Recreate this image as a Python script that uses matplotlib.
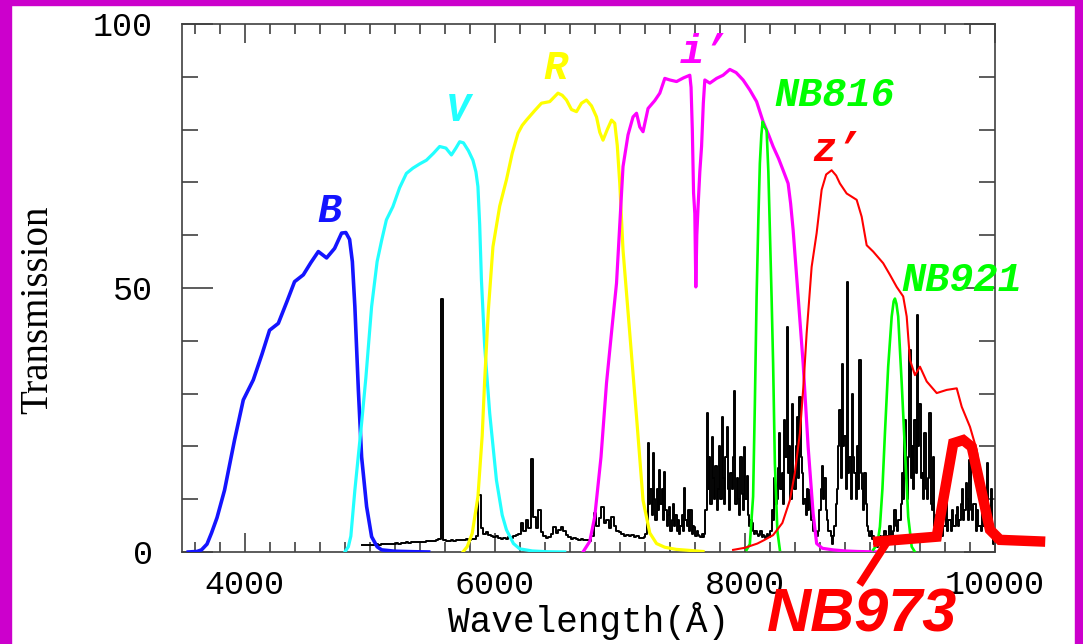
import matplotlib
matplotlib.use("Agg")
import matplotlib.pyplot as plt
from matplotlib.patches import Rectangle
import numpy as np

# filter transmission curves (wavelength in A, transmission in %)
b_wave = [3550, 3620, 3656, 3700, 3736, 3780, 3840, 3920, 3990, 4070, 4140, 4200, 4270,
          4340, 4400, 4470, 4530, 4590, 4656, 4720, 4776, 4810, 4840, 4862, 4882,
          4910, 4936, 4976, 5016, 5060, 5096, 5200, 5350, 5472]
b_trans = [0, 0.1, 0.4, 1.5, 3.6, 6.5, 11.7, 21.2, 28.8, 32.6, 37.5, 42, 43.3,
           47.5, 51.2, 52.5, 54.8, 56.9, 55.7, 57.5, 60.4, 60.5, 59.2, 55, 46.5,
           30.7, 18, 8.6, 2.9, 1.0, 0.4, 0.15, 0.05, 0]

v_wave = [4802, 4830, 4850, 4882, 4936, 4970, 5016, 5060, 5096, 5134, 5186, 5240,
          5294, 5346, 5400, 5454, 5510, 5560, 5610, 5654, 5690, 5720, 5750, 5790,
          5826, 5850, 5866, 5880, 5894, 5920, 5960, 6014, 6060, 6094, 6150, 6200,
          6300, 6420, 6560]
v_trans = [0, 1, 3, 11.7, 24.4, 33, 46.5, 55, 59, 62.9, 65.4, 69,
           71.7, 72.7, 73.5, 74.2, 75.5, 76.8, 76.5, 75.2, 76.5, 77.7, 77.5, 76,
           74.2, 72, 69.2, 62, 51.5, 38.9, 26.3, 13.6, 7, 4.2, 1.6, 0.6,
           0.2, 0.05, 0]

r_wave = [5746, 5780, 5820, 5866, 5900, 5920, 5950, 5986, 6040, 6094, 6140, 6186,
          6220, 6254, 6320, 6374, 6440, 6506, 6540, 6574, 6614, 6654, 6694, 6734,
          6774, 6814, 6840, 6866, 6900, 6934, 6960, 6980, 7000, 7026, 7080, 7134,
          7186, 7240, 7294, 7360, 7450, 7560, 7666]
r_trans = [0, 1, 3.5, 10.5, 22, 32.6, 46, 57.8, 65.5, 70.5, 75.5, 79.3,
           80.8, 81.8, 83.6, 85, 85.3, 86.9, 86.5, 85.6, 83.8, 83.4, 85, 85.6,
           84.5, 82.4, 79.5, 78, 80, 81.8, 81.2, 77, 69.8, 57.2, 41.4, 25.6,
           9.8, 3.6, 1.6, 0.9, 0.5, 0.3, 0.1]

i_wave = [6706, 6760, 6800, 6850, 6894, 6940, 6974, 7000, 7026, 7066, 7106, 7134,
          7160, 7186, 7226, 7280, 7320, 7360, 7400, 7454, 7510, 7560, 7570, 7580,
          7590, 7600, 7608, 7616, 7626, 7640, 7654, 7668, 7680, 7720, 7774, 7826,
          7880, 7930, 7986, 8040, 8094, 8146, 8190, 8226, 8270, 8306, 8346, 8366,
          8386, 8426, 8466, 8506, 8546, 8574, 8620, 8706, 8800, 8900, 9080]
i_trans = [0, 2, 6.7, 18, 32, 43, 50.9, 62, 73, 79, 82.4, 83.1,
           80.5, 79.6, 84, 85.5, 86.9, 89.7, 89.4, 89.1, 89.8, 90.3, 88, 80,
           68, 64.1, 50.2, 60, 65.4, 72, 76.8, 85, 89.4, 88.8, 89.7, 90.3,
           91.4, 90.8, 89.4, 87.5, 85.3, 81.5, 79, 76.8, 74.5, 72.3, 69.8, 66,
           61, 48.4, 35.7, 19.9, 7.3, 1.6, 0.7, 0.4, 0.2, 0.1, 0]

nb816_wave = [8014, 8040, 8066, 8080, 8094, 8108, 8120, 8132, 8142, 8158, 8174, 8188,
              8200, 8214, 8226, 8240, 8260, 8280]
nb816_trans = [0.4, 1.5, 10.5, 28, 48.4, 63, 73.6, 79, 81.5, 80.5, 79.9, 72,
               61, 48, 35.7, 16.8, 4, 0.4]

z_wave = [7906, 8000, 8100, 8150, 8226, 8300, 8360, 8400, 8440, 8470, 8494, 8534,
          8574, 8614, 8650, 8694, 8730, 8760, 8814, 8894, 8934, 8974, 9026, 9106,
          9160, 9214, 9266, 9294, 9320, 9360, 9400, 9454, 9534, 9614, 9694, 9734,
          9800, 9854, 9900, 9950, 10000]
z_trans = [0.4, 0.8, 1.6, 2.2, 3.2, 5.5, 9.8, 15, 22.5, 32, 41.4, 54,
           60.4, 68.6, 71.5, 72.3, 71.3, 69.8, 67.9, 66.7, 63.5, 58.1, 56.9, 54.7,
           52.5, 50.2, 48.4, 44.6, 36.4, 33.5, 35.1, 32.3, 30.1, 30.7, 31, 27.5,
           23.7, 19.3, 12, 5, 2]

nb921_wave = [9026, 9060, 9080, 9100, 9120, 9146, 9174, 9190, 9200, 9212, 9226, 9254,
              9280, 9306, 9334, 9360]
nb921_trans = [0.4, 1.5, 4.8, 12, 22.5, 35.1, 44.6, 47.5, 48, 47, 44.6, 32,
               19.3, 6.7, 1, 0]

nb973_wave = [9066, 9534, 9666, 9746, 9814, 9960, 10040, 10360]
nb973_trans = [2.0, 2.9, 20.6, 21.2, 19.9, 4.2, 2.3, 2.0]
pointer_wave = [8934, 9130]
pointer_trans = [-5.6, 1.6]

# night-sky spectrum: 20 A bins from 4940 to 7180, 10 A bins from 7200 to 10000
spec_wave = np.concatenate([np.arange(4940, 7200, 20), np.arange(7200, 10001, 10)])
spec_flux = [
    1.3, 1.3, 1.4, 1.3, 1.4, 1.4, 1.5, 1.4, 1.5, 1.5,   # 4940-5120
    1.6, 1.5, 1.6, 1.6, 1.7, 1.6, 1.7, 1.7, 1.8, 1.7,   # 5140-5320
    1.8, 1.8, 1.9, 1.8, 1.9, 1.9, 2.0, 2.0, 2.0, 2.1,   # 5340-5520
    2.2, 2.5, 48.0, 2.2, 2.0, 2.1, 2.2, 2.1, 2.2, 2.3,   # 5540-5720
    2.2, 2.3, 2.4, 2.3, 2.4, 2.5, 3.0, 10.8, 4.5, 3.5,   # 5740-5920
    3.8, 3.2, 3.0, 2.8, 3.0, 2.6, 2.5, 2.7, 2.5, 2.9,   # 5940-6120
    2.6, 3.0, 3.2, 3.5, 5.4, 4.0, 6.0, 4.5, 17.6, 6.7,  # 6140-6320
    4.5, 8.0, 3.8, 3.0, 2.6, 2.9, 3.5, 4.8, 3.6, 4.2,   # 6340-6520
    4.8, 4.0, 3.3, 2.9, 2.5, 2.7, 2.4, 2.3, 2.5, 2.2,   # 6540-6720
    2.3, 2.0, 3.0, 7.3, 5.0, 6.5, 8.6, 5.5, 6.0, 4.5,   # 6740-6920
    6.7, 5.0, 4.0, 3.8, 3.5, 3.0, 3.3, 3.0, 3.2, 2.8,   # 6940-7120
    3.0, 2.7, 2.6,                                      # 7140-7180
    2.8, 3.5, 6, 20.6, 9, 12, 7, 18.7, 10, 6,           # 7200-7290
    12, 8, 15.5, 9, 12, 6, 15.2, 8, 5, 7,               # 7300-7390
    8.6, 4, 6, 9, 5, 7, 4, 6, 3.5, 5,                   # 7400-7490
    7, 4, 12.1, 6, 5, 8, 4, 8, 3.5, 5,                  # 7500-7590
    4.8, 3, 4, 3.2, 3, 2.8, 3.5, 2.9, 3.5, 8,           # 7600-7690
    26.3, 12, 18, 9, 21.8, 14, 10, 16.2, 8, 12,         # 7700-7790
    20, 10, 25.6, 14, 9, 18, 23.7, 12, 8, 15,           # 7800-7890
    12, 18, 30.4, 9, 14, 10, 7, 18, 11, 8,              # 7900-7990
    19.9, 10, 14.3, 7, 5, 6, 5.4, 4, 3.5, 4,            # 8000-8090
    3.5, 3, 3.2, 4, 2.8, 3.2, 3, 2.6, 3.5, 2.8,         # 8100-8190
    2.9, 4, 8, 6, 14, 9, 10, 16, 22.5, 12,              # 8200-8290
    15, 9, 25, 18, 42.7, 15, 20, 10, 28, 14,            # 8300-8390
    12, 20, 25.6, 14, 29.4, 18, 15, 9, 10, 7,           # 8400-8490
    12, 8, 11.7, 6, 6, 4, 4, 3, 3, 4,                   # 8500-8590
    8, 12, 16.2, 10, 14, 8, 6, 4, 4, 3,                 # 8600-8690
    1.6, 3, 5, 9, 12, 20, 26.9, 14, 35.7, 20,           # 8700-8790
    22, 12, 51.2, 15, 18, 10, 30, 18, 15, 10,           # 8800-8890
    20, 12, 36.4, 15, 12, 8, 15, 9, 5, 4,               # 8900-8990
    3, 4, 2.5, 3, 1.5, 2, 1, 2, 3, 2,                   # 9000-9090
    2, 3, 4, 3, 3, 2.5, 5, 3, 3, 4,                     # 9100-9190
    8, 5, 4, 6, 6, 9, 15, 10, 25, 14,                   # 9200-9290
    10, 18, 38.3, 14, 20, 12, 25, 15, 44.9, 20,         # 9300-9390
    28, 14, 15, 10, 22.5, 12, 10, 14, 26.3, 9,          # 9400-9490
    8, 18, 5, 7, 4, 6, 6, 4, 3, 5,                      # 9500-9590
    5, 13, 4, 6, 6, 4, 8, 5, 5, 7,                      # 9600-9690
    8.6, 5, 6, 9, 12, 6, 8, 13, 10, 6,                  # 9700-9790
    17.4, 8, 6, 9, 9, 4, 8, 5, 5, 4,                    # 9800-9890
    8, 5, 5, 12, 16.8, 7, 6, 12, 4, 1.6,                # 9900-9990
    4,                                                  # 10000
]

filters = [
    (b_wave, b_trans, "#1414ff", 2.6),
    (v_wave, v_trans, "#22ffff", 2.3),
    (r_wave, r_trans, "#ffff00", 2.3),
    (i_wave, i_trans, "#ff00ff", 2.3),
    (nb816_wave, nb816_trans, "#00ff00", 1.9),
    (z_wave, z_trans, "#ff0000", 1.5),
    (nb921_wave, nb921_trans, "#00ff00", 1.9),
]

labels = [
    ("B", 4680, 64.6, "#1414ff"),
    ("V", 5704, 83.7, "#22ffff"),
    ("R", 6488, 91.7, "#ffff00"),
    ("i\u2019", 7672, 94.7, "#ff00ff"),
    ("NB816", 8720, 86.6, "#00ff00"),
    ("z\u2019", 8736, 76.1, "#ff0000"),
    ("NB921", 9736, 51.5, "#00ff00"),
]

fig = plt.figure(figsize=(10.83, 6.44), dpi=100)
fig.patch.set_facecolor("white")
ax = fig.add_axes([182 / 1083, 92 / 644, 813 / 1083, 528 / 644])

ax.plot(spec_wave, spec_flux, color="black", lw=1.4, drawstyle="steps-mid", zorder=2)

for wave, trans, color, lw in filters:
    ax.plot(wave, trans, color=color, lw=lw, zorder=3)

ax.plot(nb973_wave, nb973_trans, color="#ff0000", lw=7.5, zorder=5,
        clip_on=False, solid_joinstyle="miter")
ax.plot(pointer_wave, pointer_trans, color="#ff0000", lw=5.5, zorder=5, clip_on=False)

for text, x, y, color in labels:
    ax.text(x, y, text, color=color, fontsize=29, style="italic", weight="bold",
            family="Liberation Mono", ha="center", va="center", zorder=6)

ax.set_xlim(3500, 10000)
ax.set_ylim(0, 100)
ax.set_xticks([4000, 6000, 8000, 10000])
ax.set_xticks(np.arange(3600, 10000, 200), minor=True)
ax.set_yticks([0, 50, 100])
ax.set_yticks(np.arange(0, 101, 10), minor=True)

tick_font = dict(family="Liberation Mono", size=24)
ax.set_xticklabels(["4000", "6000", "8000", "10000"], fontdict=tick_font)
ax.set_yticklabels(["0", "50", "100"], fontdict=tick_font)
ax.tick_params(axis="x", which="major", direction="in", length=14, width=1.1,
               top=True, pad=13, color="#303030")
ax.tick_params(axis="x", which="minor", direction="in", length=7.5, width=1.1,
               top=True, color="#303030")
ax.tick_params(axis="y", which="major", direction="in", length=22, width=1.1,
               right=True, pad=21, color="#303030")
ax.tick_params(axis="y", which="minor", direction="in", length=11.5, width=1.1,
               right=True, color="#303030")
for sp in ax.spines.values():
    sp.set_color("#404040")
    sp.set_linewidth(1.2)

ax.set_xlabel("Wavelength(\u00c5)", family="Liberation Mono", fontsize=26)
ax.xaxis.set_label_coords(0.5, -0.13)
ax.xaxis.label.set_va("center")
ax.set_ylabel("Transmission", family="Liberation Serif", fontsize=28)
ax.yaxis.set_label_coords(-0.178, 0.458)
ax.yaxis.label.set_va("center")

fig.text(767 / 1083, 12 / 644, "NB973", color="#ff0000", fontsize=44,
         family="Liberation Sans", weight="bold", style="italic",
         ha="left", va="baseline")

# magenta frame
border = "#cc00cc"
fig.patches.append(Rectangle((0, 0), 11 / 1083, 1, transform=fig.transFigure,
                             color=border, zorder=10))
fig.patches.append(Rectangle((0, 1 - 5 / 644), 1, 5 / 644, transform=fig.transFigure,
                             color=border, zorder=10))
fig.patches.append(Rectangle((1 - 8 / 1083, 0), 8 / 1083, 1, transform=fig.transFigure,
                             color=border, zorder=10))

fig.savefig("out.png", dpi=100)
